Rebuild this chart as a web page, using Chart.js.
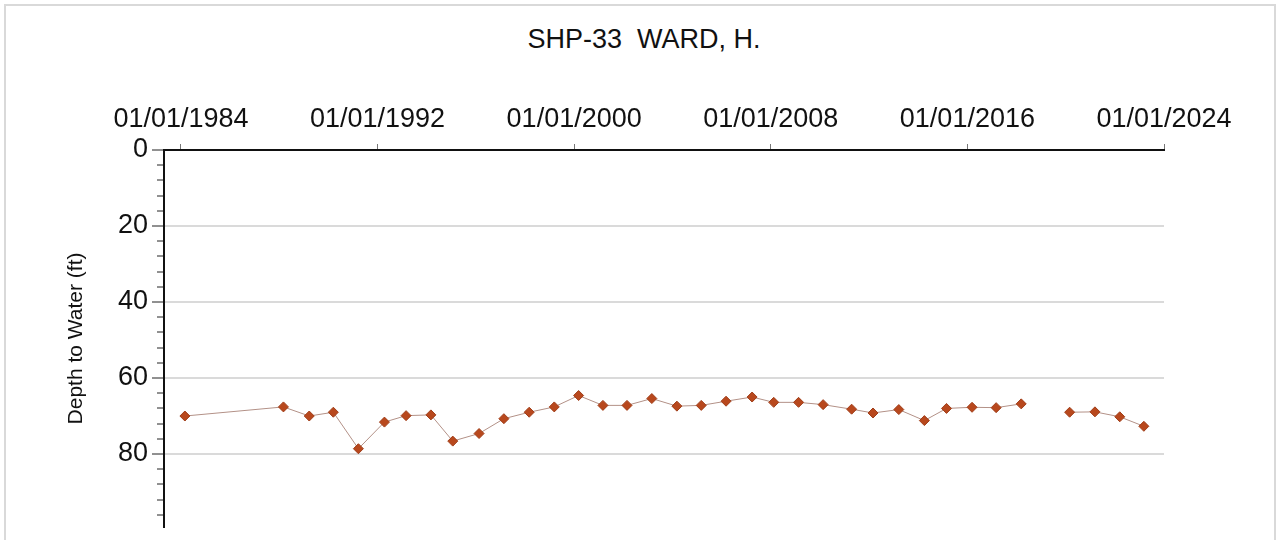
<!DOCTYPE html>
<html>
<head>
<meta charset="utf-8">
<title>SHP-33 WARD, H.</title>
<script src="https://cdn.jsdelivr.net/npm/chart.js@4.4.0/dist/chart.umd.min.js"></script>
<style>
  html, body { margin: 0; padding: 0; background: #fff; }
  #wrap { position: relative; width: 1280px; height: 540px; overflow: hidden; }
  #frame { position: absolute; left: 4px; top: 4px; width: 1268px; height: 560px; border: 2px solid #d9d9d9; }
  #title { position: absolute; left: 444px; top: 23px; width: 400px; text-align: center;
           font: 27px/32px "Liberation Sans", Arial, sans-serif; color: #111; white-space: pre; }
  #chart { position: absolute; left: 0; top: 0; }
</style>
</head>
<body>
<div id="wrap">
  <div id="frame"></div>
  <div id="title">SHP-33  WARD, H.</div>
  <canvas id="chart" width="1280" height="540"></canvas>
</div>
<script>
// measurement dates as decimal years, null depth = no reading (line break)
const sampleYears = [1984.16, 1988.17, 1989.22, 1990.20, 1991.22, 1992.28, 1993.16, 1994.17,
  1995.06, 1996.13, 1997.14, 1998.17, 1999.19, 2000.18, 2001.17, 2002.15, 2003.16, 2004.18,
  2005.17, 2006.18, 2007.24, 2008.12, 2009.13, 2010.13, 2011.29, 2012.16, 2013.21, 2014.25,
  2015.15, 2016.19, 2017.17, 2018.19, 2019.20, 2020.16, 2021.19, 2022.20, 2023.18]
const depthFt = [70.0, 67.6, 70.0, 69.0, 78.6, 71.6, 69.9, 69.7,
  76.6, 74.6, 70.7, 69.0, 67.6, 64.6, 67.2, 67.2, 65.4, 67.4,
  67.2, 66.1, 65.0, 66.4, 66.4, 67.0, 68.2, 69.2, 68.3, 71.2,
  68.0, 67.7, 67.8, 66.8, null, 69.0, 68.9, 70.2, 72.7]

const xTickYears = [1984, 1992, 2000, 2008, 2016, 2024]
const yLabelTicks = [0, 20, 40, 60, 80]

const FONT = '"Liberation Sans", Arial, sans-serif'

const points = sampleYears.map((yr, i) => ({ x: yr, y: depthFt[i] }))

const isMajor = (c) => c.tick && c.tick.value % 20 === 0

var ctx = document.getElementById('chart').getContext('2d');
var chart = new Chart(ctx, {
  type: 'line',
  data: {
    datasets: [{
      data: points,
      borderColor: '#b39187',
      borderWidth: 1,
      tension: 0,
      spanGaps: false,
      pointStyle: 'rectRot',
      pointRadius: 5,
      pointBackgroundColor: '#b8481d',
      pointBorderColor: '#a03e19',
      pointBorderWidth: 1,
    }]
  },
  options: {
    responsive: false,
    animation: false,
    layout: {
      padding: { left: 60, right: 116, top: 64, bottom: 13 }
    },
    plugins: {
      legend: { display: false },
      tooltip: { enabled: false },
      title: { display: false }
    },
    scales: {
      x: {
        type: 'linear',
        position: 'top',
        min: 1983.31,
        max: 2024,
        afterBuildTicks: (s) => { s.ticks = xTickYears.map(v => ({ value: v })) },
        afterFit: (s) => { s.height = 86; s.paddingLeft = 0; s.paddingRight = 0 },
        ticks: {
          callback: (v) => '01/01/' + v,
          color: '#111',
          font: { family: FONT, size: 27 },
          padding: 8,
          maxRotation: 0,
          autoSkip: false
        },
        grid: { drawOnChartArea: false, tickLength: 6, tickColor: '#777', tickWidth: 1 },
        border: { color: '#111', width: 2 }
      },
      y: {
        reverse: true,
        min: 0,
        max: 99.2,
        afterFit: (s) => { s.width = 104; s.paddingTop = 0; s.paddingBottom = 0 },
        ticks: {
          stepSize: 4,
          includeBounds: false,
          autoSkip: false,
          callback: (v) => yLabelTicks.includes(v) ? v : '',
          color: '#111',
          font: { family: FONT, size: 27 },
          padding: 4
        },
        grid: {
          color: (c) => (isMajor(c) && c.tick.value !== 0) ? '#dadada' : 'rgba(0,0,0,0)',
          lineWidth: 2,
          tickLength: 12,
          tickColor: '#222',
          tickWidth: 1,
          tickBorderDash: (c) => isMajor(c) ? [] : [0, 5, 20, 0]
        },
        border: { color: '#111', width: 2 },
        title: {
          display: true,
          text: 'Depth to Water (ft)',
          color: '#111',
          font: { family: FONT, size: 21 },
          padding: { top: 4, bottom: 4 }
        }
      }
    }
  }
});
</script>
</body>
</html>
